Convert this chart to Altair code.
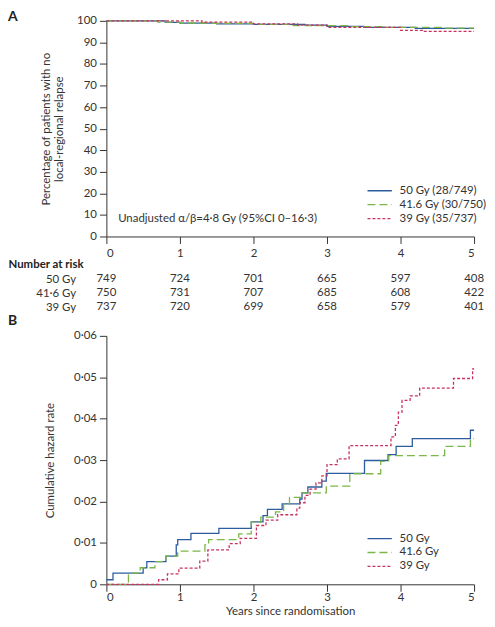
import altair as alt
import pandas as pd

FONT = "Lato"
INK = "#333333"
FS = 11.5

groups_a = ["50 Gy (28/749)", "41.6 Gy (30/750)", "39 Gy (35/737)"]
groups_b = ["50 Gy", "41.6 Gy", "39 Gy"]
table_rows = ["50 Gy", "41·6 Gy", "39 Gy"]
colors = ["#2d5c9e", "#7ab648", "#c8325e"]
dash_styles = [[1, 0], [8, 4], [3, 2]]

# Panel A: percentage with no local-regional relapse (step curves)
a50_t = [0, 0.8, 1.0, 1.5, 2.0, 2.7, 3.0, 3.5, 4.2, 5.0]
a50_v = [100, 99.3, 98.9, 98.6, 98.4, 98.0, 97.4, 97.0, 96.5, 96.5]
a416_t = [0, 0.7, 1.0, 1.4, 2.0, 2.5, 3.3, 3.8, 4.6, 5.0]
a416_v = [100, 99.4, 99.0, 98.8, 98.4, 97.8, 97.3, 97.0, 96.6, 96.6]
a39_t = [0, 1.3, 2.0, 2.6, 3.0, 4.0, 4.3, 5.0]
a39_v = [100, 99.4, 98.6, 98.0, 97.0, 95.6, 95.1, 95.1]

note_text = ["Unadjusted α/β=4·8 Gy (95%CI 0–16·3)"]
note_t = [0.16]
note_v = [8]

# Number at risk
risk_years = [0, 1, 2, 3, 4, 5]
risk_50 = [749, 724, 701, 665, 597, 408]
risk_416 = [750, 731, 707, 685, 608, 422]
risk_39 = [737, 720, 699, 658, 579, 401]

# Panel B: cumulative hazard
b50_t = [0, 0.09, 0.5, 0.55, 0.81, 0.95, 0.97, 1.15, 1.53, 1.97, 2.13, 2.19, 2.39, 2.63, 2.66, 2.74, 2.93, 2.99, 3.51, 3.83, 3.94, 4.16, 4.95, 5.0]
b50_v = [0.0011, 0.0027, 0.0040, 0.0055, 0.0068, 0.0095, 0.0108, 0.0123, 0.0135, 0.0151, 0.0166, 0.0181, 0.0194, 0.0206, 0.0221, 0.0235, 0.0249, 0.0268, 0.0299, 0.0313, 0.0333, 0.0352, 0.0372, 0.0372]
b416_t = [0, 0.3, 0.46, 0.66, 0.81, 0.97, 1.34, 1.39, 1.8, 1.97, 2.1, 2.3, 2.41, 2.49, 2.66, 2.99, 3.31, 3.73, 3.84, 4.6, 4.95, 5.0]
b416_v = [0, 0.0027, 0.0040, 0.0055, 0.0068, 0.0080, 0.0095, 0.0108, 0.0122, 0.0151, 0.0162, 0.0175, 0.0194, 0.0210, 0.0221, 0.0237, 0.0267, 0.0297, 0.0311, 0.0333, 0.0352, 0.0352]
b39_t = [0, 0.71, 0.83, 0.985, 1.27, 1.38, 1.67, 1.82, 2.04, 2.17, 2.33, 2.59, 2.63, 2.7, 2.77, 2.85, 2.93, 3.0, 3.14, 3.3, 3.87, 3.93, 3.97, 4.02, 4.13, 4.26, 4.72, 4.98, 5.0]
b39_v = [0, 0.0011, 0.0025, 0.0039, 0.0056, 0.0083, 0.0098, 0.0111, 0.0142, 0.0155, 0.0168, 0.0184, 0.0197, 0.0215, 0.0230, 0.0245, 0.0262, 0.0289, 0.0303, 0.0335, 0.0356, 0.0384, 0.0416, 0.0444, 0.0455, 0.0474, 0.0497, 0.0520, 0.0520]


def frame(series, names):
    rows = []
    for (ts, vs), name in zip(series, names):
        for t, v in zip(ts, vs):
            rows.append({"t": t, "v": v, "grp": name})
    return pd.DataFrame(rows)


dfA = frame([(a50_t, a50_v), (a416_t, a416_v), (a39_t, a39_v)], groups_a)
dfB = frame([(b50_t, b50_v), (b416_t, b416_v), (b39_t, b39_v)], groups_b)
dfN = pd.DataFrame({"t": note_t, "v": note_v, "label": note_text})
dfT = pd.DataFrame(
    [{"year": y, "row": r, "n": str(n)}
     for r, ns in zip(table_rows, [risk_50, risk_416, risk_39])
     for y, n in zip(risk_years, ns)]
)

W = 370
HA = 217
HT = 56
HB = 250


def legend(y):
    return alt.Legend(title=None, orient="none", legendX=262, legendY=y,
                      symbolType="stroke", symbolSize=600, symbolStrokeWidth=1.3,
                      labelFontSize=FS, labelColor=INK, rowPadding=0, clipHeight=14,
                      labelOffset=7)


def x_axis(pad, title=None):
    kw = dict(values=risk_years, format="d", grid=False, tickSize=7,
              labelPadding=pad, labelFontSize=FS, labelColor=INK,
              domainColor=INK, tickColor=INK)
    if title is not None:
        kw["title"] = title
        kw["titleFontWeight"] = "normal"
        kw["titleFontSize"] = FS
        kw["titleColor"] = INK
        kw["titlePadding"] = 3
    else:
        kw["title"] = None
    return alt.Axis(**kw)


xA = alt.Scale(domain=[0, 5], nice=False)
yA = alt.Scale(domain=[0, 100], nice=False)
axAx = x_axis(4)
axAy = alt.Axis(values=list(range(0, 101, 10)), grid=False, tickSize=7,
                labelPadding=3, labelFontSize=FS, labelColor=INK,
                labelOverlap=False, domainColor=INK, tickColor=INK,
                title=["Percentage of patients with no", "local-regional relapse"],
                titleFontWeight="normal", titleFontSize=FS, titleColor=INK,
                titlePadding=12)

linesA = alt.Chart(dfA).mark_line(interpolate="step-after", strokeWidth=1.3).encode(
    x=alt.X("t:Q", scale=xA, axis=axAx),
    y=alt.Y("v:Q", scale=yA, axis=axAy),
    color=alt.Color("grp:N", scale=alt.Scale(domain=groups_a, range=colors), legend=legend(HA - 53)),
    strokeDash=alt.StrokeDash("grp:N", scale=alt.Scale(domain=groups_a, range=dash_styles), legend=legend(HA - 53)),
)
noteA = alt.Chart(dfN).mark_text(align="left", baseline="middle", fontSize=FS, color=INK).encode(
    x=alt.X("t:Q", scale=xA, axis=axAx),
    y=alt.Y("v:Q", scale=yA, axis=axAy),
    text="label:N",
)
panelA = alt.layer(linesA, noteA).properties(
    width=W, height=HA,
    title=alt.TitleParams("A", anchor="start", frame="group", dx=-99, fontSize=14,
                          fontWeight="bold", color="#222", offset=-9),
)

table = alt.Chart(dfT).mark_text(fontSize=FS, color=INK).encode(
    x=alt.X("year:Q", scale=alt.Scale(domain=[0, 5], nice=False), axis=None),
    y=alt.Y("row:N", sort=table_rows, scale=alt.Scale(range=[21, 49], padding=0),
            axis=alt.Axis(title="Number at risk", titleAngle=0, titleAlign="left",
                          titleBaseline="middle", titleX=-99, titleY=6,
                          titleFontWeight="bold", titleFontSize=FS, titleColor="#222",
                          domain=False, ticks=False, labelPadding=31,
                          labelFontSize=FS, labelColor=INK)),
    text="n:N",
).properties(width=W, height=HT)

linesB = alt.Chart(dfB).mark_line(interpolate="step-after", strokeWidth=1.3).encode(
    x=alt.X("t:Q", scale=alt.Scale(domain=[0, 5], nice=False),
            axis=x_axis(0, "Years since randomisation")),
    y=alt.Y("v:Q", scale=alt.Scale(domain=[0, 0.06], nice=False),
            axis=alt.Axis(values=[0, 0.01, 0.02, 0.03, 0.04, 0.05, 0.06], grid=False,
                          tickSize=7, labelPadding=3, labelFontSize=FS, labelColor=INK,
                          domainColor=INK, tickColor=INK,
                          labelExpr="datum.value == 0 ? '0' : replace(format(datum.value, '.2f'), '.', '·')",
                          title="Cumulative hazard rate", titleFontWeight="normal",
                          titleFontSize=FS, titleColor=INK, titlePadding=18)),
    color=alt.Color("grp:N", scale=alt.Scale(domain=groups_b, range=colors), legend=legend(HB - 53)),
    strokeDash=alt.StrokeDash("grp:N", scale=alt.Scale(domain=groups_b, range=dash_styles), legend=legend(HB - 53)),
)
panelB = linesB.properties(
    width=W, height=HB,
    title=alt.TitleParams("B", anchor="start", frame="group", dx=-99, fontSize=14,
                          fontWeight="bold", color="#222", offset=2),
)

chart = alt.vconcat(panelA, table, panelB, spacing=22, bounds="flush").resolve_scale(
    color="independent", strokeDash="independent"
).resolve_legend(color="independent", strokeDash="independent").properties(
    padding=0
).configure(font=FONT).configure_view(stroke=None)

chart.save("out.html", embed_options={"renderer": "svg", "actions": False})
